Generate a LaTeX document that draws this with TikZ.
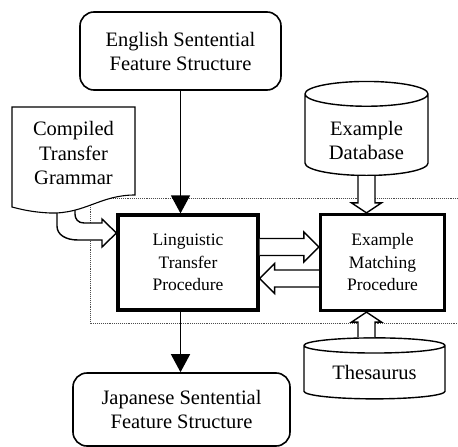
\documentclass[tikz,border=0pt]{standalone}
\usepackage{fontspec}
\setmainfont{Liberation Serif}
\usetikzlibrary{calc}
\usetikzlibrary{positioning}
\usetikzlibrary{shapes.geometric}
\usetikzlibrary{arrows.meta}
\tikzset{featbox/.style={shape=rectangle, rounded corners=14pt, draw=black, line width=1.6pt, align=center, font=\fontsize{20.5}{24}\selectfont, inner sep=0pt},
  procbox/.style={shape=rectangle, draw=black, line width=3.2pt, align=center, font=\fontsize{17.5}{22.5}\selectfont, inner sep=0pt},
  dbnode/.style={cylinder, shape border rotate=90, draw=black, fill=white, line width=1.4pt, align=center, font=\fontsize{20.5}{24}\selectfont, inner sep=0pt},
  flow/.style={line width=1.4pt, -{Triangle[length=18pt, width=19pt]}},
  hollow/.style={draw=black, fill=white, line width=1.4pt, line join=miter},
  region/.style={densely dotted, line width=0.9pt, black!70}}
% fat open arrow: tail, tip, head length
\newcommand{\hollowarrow}[3]{%
  \coordinate (ha) at (#1);
  \coordinate (hb) at (#2);
  \coordinate (hh) at ($(hb)!#3!(ha)$);
  \draw[hollow] ($(ha)!8.5pt!90:(hb)$) -- ($(hh)!8.5pt!90:(hb)$) -- ($(hh)!15pt!90:(hb)$)
    -- (hb) -- ($(hh)!15pt!-90:(hb)$) -- ($(hh)!8.5pt!-90:(hb)$) -- ($(ha)!8.5pt!-90:(hb)$);
}
% text set lower than its box
\newcommand{\lowered}[2]{\raisebox{-#1}[\height][\depth]{\begin{tabular}{@{}c@{}}#2\end{tabular}}}

\begin{document}
\begin{tikzpicture}[x=1pt, y=-1pt]
    \useasboundingbox (0,0) rectangle (458,447);

    \draw[region] (458,198.5) -- (90,198.5) -- (90,323) -- (458,323);

    \node[featbox, minimum width=201pt, minimum height=78pt] (english) at (180.5,51) {English Sentential\\Feature Structure};
    \node[featbox, minimum width=217pt, minimum height=73pt] (japanese) at (181.5,409.5) {Japanese Sentential\\Feature Structure};
    \node[procbox, minimum width=140pt, minimum height=95pt] (ling) at (188,262.5) {Linguistic\\Transfer\\Procedure};
    \node[procbox, minimum width=124pt, minimum height=96pt] (match) at (382.5,262.5) {Example\\Matching\\Procedure};
    \node[dbnode, minimum width=123pt, minimum height=94pt, aspect=0.33] (db) at (366.5,135) {\lowered{8pt}{Example\\Database}};
    \node[dbnode, minimum width=141pt, minimum height=61pt, aspect=0.18] (thes) at (374.5,372.5) {\lowered{2pt}{Thesaurus}};

    % grammar sheet with its bent arrow
    \draw[hollow] (57,200) -- (57,226) .. controls (57,235) and (66,240) .. (78,240) -- (102,240) -- (102,247)
      -- ($(ling.west)+(0,-29.5)$) -- (102,219) -- (102,223) -- (84,223) .. controls (78,223) and (75,219) .. (75,214) -- (75,200);
    \draw[hollow, line width=1.1pt] (12,107) -- (135,107) -- (135,195)
      .. controls (100,195) and (85,214) .. (50,213) .. controls (30,212) and (20,209) .. (12,207) -- cycle;
    \node[align=center, font=\fontsize{20.5}{24.5}\selectfont, inner sep=0pt] (grammar) at (73.5,153) {Compiled\\Transfer\\Grammar};

    \draw[flow] (english.south) -- (english.south |- ling.north);
    \draw[flow] (ling.south -| english.south) -- (english.south |- japanese.north);

    \hollowarrow{$(ling.east)+(0,-15.5)$}{$(match.west)+(0,-15.5)$}{15pt}
    \hollowarrow{$(match.west)+(0,16)$}{$(ling.east)+(0,16)$}{15pt}
    \hollowarrow{db.south}{db.south |- match.north}{10pt}
    \hollowarrow{db.south |- thes.north}{db.south |- match.south}{10pt}
\end{tikzpicture}
\end{document}
